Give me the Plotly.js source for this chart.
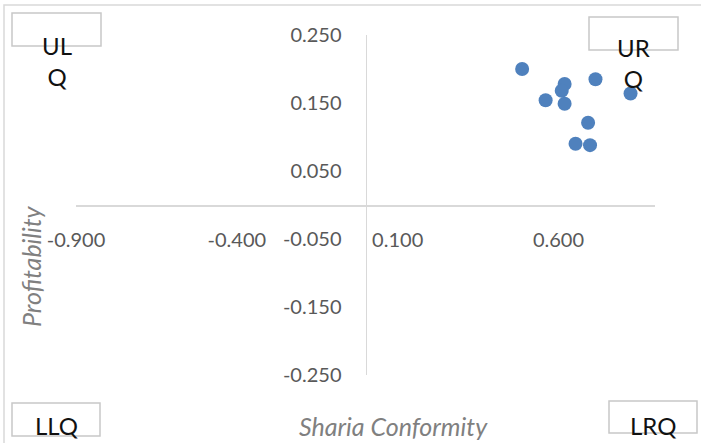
<!DOCTYPE html>
<html>
<head>
<meta charset="utf-8">
<script src="https://cdn.plot.ly/plotly-3.0.1.min.js"></script>
<style>html,body{margin:0;padding:0;background:#fff;}#chart{width:701px;height:443px;}</style>
</head>
<body>
<div id="chart"></div>
<script>
// Data
const shariaConformity = [0.487, 0.715, 0.619, 0.610, 0.824, 0.560, 0.619, 0.692, 0.653, 0.698];
const profitability    = [0.200, 0.185, 0.178, 0.168, 0.164, 0.154, 0.149, 0.121, 0.090, 0.088];
const xTickVals = [-0.9, -0.4, 0.1, 0.6];
const yTickVals = [-0.25, -0.15, -0.05, 0.05, 0.15, 0.25];
const quadrantLabels = ["UL<br>Q", "UR<br>Q", "LLQ", "LRQ"];

const W = 701, H = 443;
const L = 76, R = 655, T = 35, B = 375;
const px = x => (x - L) / (R - L);
const py = y => (B - y) / (B - T);

const fontFam = 'Lato, "Open Sans", sans-serif';
const boxes = [[12, 13, 101, 46], [589, 17, 678, 50], [12, 403, 100, 436], [609, 401, 697, 433]];
const labelPos = [[57, 61], [633, 63], [56, 425], [653, 425]];

const shapes = [{type: 'rect', xref: 'paper', yref: 'paper', x0: px(4), y0: py(5), x1: px(720), y1: py(460),
  line: {color: '#d9d9d9', width: 1.5}, layer: 'below'}];
boxes.forEach(b => shapes.push({type: 'rect', xref: 'paper', yref: 'paper',
  x0: px(b[0]), y0: py(b[1]), x1: px(b[2]), y1: py(b[3]), line: {color: '#c8c8c8', width: 1.5}}));

const annotations = quadrantLabels.map((t, i) => ({
  text: t, xref: 'paper', yref: 'paper', x: px(labelPos[i][0]), y: py(labelPos[i][1]),
  xanchor: 'center', yanchor: 'middle', showarrow: false,
  font: {family: fontFam, size: 24, color: '#111'}
}));
annotations.push({text: '<i>Sharia Conformity</i>', xref: 'paper', yref: 'paper', x: px(393), y: py(426),
  xanchor: 'center', yanchor: 'middle', showarrow: false, font: {family: fontFam, size: 25, color: '#808080'}});
annotations.push({text: '<i>Profitability</i>', xref: 'paper', yref: 'paper', x: px(31), y: py(266),
  xanchor: 'center', yanchor: 'middle', textangle: -90, showarrow: false, font: {family: fontFam, size: 25, color: '#808080'}});

const trace = {
  x: shariaConformity, y: profitability, type: 'scatter', mode: 'markers',
  marker: {color: '#4F81BD', size: 14}, cliponaxis: false, hoverinfo: 'x+y'
};

const layout = {
  width: W, height: H,
  margin: {l: L, r: W - R, t: T, b: H - B, pad: 0},
  paper_bgcolor: '#fff', plot_bgcolor: 'rgba(0,0,0,0)',
  showlegend: false,
  font: {family: fontFam, color: '#595959'},
  xaxis: {
    range: [-0.9, 0.9], anchor: 'free', position: 0.5,
    showgrid: false, zeroline: false, showline: true, linecolor: '#d9d9d9', linewidth: 1.5,
    tickmode: 'array', tickvals: xTickVals, ticktext: xTickVals.map(v => v.toFixed(3)),
    ticks: '', ticklabelstandoff: 16, tickfont: {family: fontFam, size: 20, color: '#595959'}
  },
  yaxis: {
    range: [-0.25, 0.25], anchor: 'free', position: 0.5,
    showgrid: false, zeroline: false, showline: true, linecolor: '#d9d9d9', linewidth: 1.5,
    tickmode: 'array', tickvals: yTickVals, ticktext: yTickVals.map(v => v.toFixed(3)),
    ticks: '', ticklabelstandoff: 20, tickfont: {family: fontFam, size: 20, color: '#595959'}
  },
  shapes: shapes,
  annotations: annotations
};

Plotly.newPlot('chart', [trace], layout, {displayModeBar: false, staticPlot: true});
</script>
</body>
</html>
